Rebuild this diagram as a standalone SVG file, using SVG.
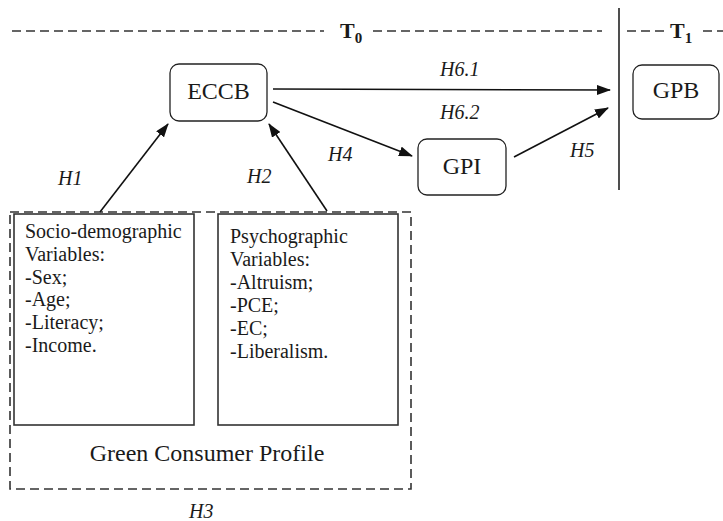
<svg xmlns="http://www.w3.org/2000/svg" width="723" height="521" viewBox="0 0 723 521">
<defs>
<marker id="ah" markerWidth="14" markerHeight="10" refX="13" refY="5" orient="auto" markerUnits="userSpaceOnUse">
<path d="M0,0 L14,5 L0,10 Z" fill="#111"/>
</marker>
<style>
.lbl{font-style:italic;font-size:20px}
.nd{font-size:24px;text-anchor:middle}
.var{font-size:20px}
.rbox{fill:#fff;stroke:#222;stroke-width:1.3}
.box{fill:#fff;stroke:#333;stroke-width:1.6}
.dash{fill:none;stroke:#333;stroke-width:1.6;stroke-dasharray:9 5}
.conn{stroke:#111;stroke-width:1.6;fill:none;marker-end:url(#ah)}
.tt{font-weight:bold;font-size:22px}
.sub{font-weight:bold;font-size:15px}
</style>
</defs>
<rect width="723" height="521" fill="#fff"/>
<g font-family="Liberation Serif, Times New Roman, DejaVu Serif, serif" fill="#1a1a1a">
<g id="timeline">
<line class="dash" x1="12" y1="31" x2="324" y2="31"/>
<text class="tt" x="340" y="38">T<tspan class="sub" dy="5">0</tspan></text>
<line class="dash" x1="373" y1="31" x2="602" y2="31"/>
<line x1="619" y1="8" x2="619" y2="190" stroke="#222" stroke-width="1.6"/>
<line class="dash" x1="627" y1="31" x2="664" y2="31"/>
<text class="tt" x="670" y="38">T<tspan class="sub" dy="5">1</tspan></text>
<line class="dash" x1="703" y1="31" x2="723" y2="31"/>
</g>

<g id="ECCB">
<rect class="rbox" x="170" y="64" width="97" height="57" rx="9"/>
<text class="nd" x="218.5" y="99">ECCB</text>
</g>
<g id="GPI">
<rect class="rbox" x="418" y="139" width="88" height="56" rx="9"/>
<text class="nd" x="462" y="174">GPI</text>
</g>
<g id="GPB">
<rect class="rbox" x="633" y="65" width="86" height="54" rx="9"/>
<text class="nd" x="676" y="98">GPB</text>
</g>

<g id="profile">
<rect class="dash" x="10" y="212" width="401" height="277"/>
<text x="207" y="461" font-size="24" text-anchor="middle">Green Consumer Profile</text>
</g>
<g id="socio">
<rect class="box" x="14" y="214" width="180" height="211"/>
<text class="var" x="25" y="238">Socio-demographic</text>
<text class="var" x="25" y="261">Variables:</text>
<text class="var" x="25" y="284">-Sex;</text>
<text class="var" x="25" y="306">-Age;</text>
<text class="var" x="25" y="329">-Literacy;</text>
<text class="var" x="25" y="352">-Income.</text>
</g>
<g id="psycho">
<rect class="box" x="218" y="214" width="180" height="211"/>
<text class="var" x="230" y="243">Psychographic</text>
<text class="var" x="230" y="266">Variables:</text>
<text class="var" x="230" y="289">-Altruism;</text>
<text class="var" x="230" y="312">-PCE;</text>
<text class="var" x="230" y="335">-EC;</text>
<text class="var" x="230" y="358">-Liberalism.</text>
</g>

<g id="connectors">
<line class="conn" x1="100" y1="212" x2="168" y2="124"/>
<line class="conn" x1="327" y1="211" x2="269" y2="124"/>
<line class="conn" x1="273" y1="89" x2="610" y2="90"/>
<line class="conn" x1="273" y1="102" x2="412" y2="156"/>
<line class="conn" x1="514" y1="157" x2="608" y2="108"/>
</g>

<g id="labels">
<text class="lbl" x="58" y="185">H1</text>
<text class="lbl" x="247" y="183">H2</text>
<text class="lbl" x="328" y="161">H4</text>
<text class="lbl" x="570" y="157">H5</text>
<text class="lbl" x="440" y="76">H6.1</text>
<text class="lbl" x="440" y="119">H6.2</text>
<text class="lbl" x="189" y="518">H3</text>
</g>
</g>
</svg>
